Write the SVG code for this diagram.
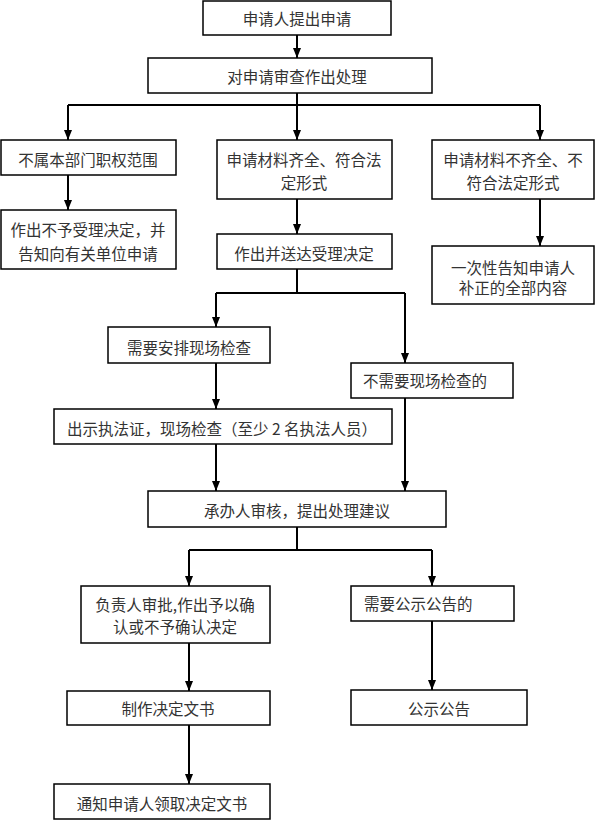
<svg xmlns="http://www.w3.org/2000/svg" width="596" height="821" viewBox="0 0 596 821">
<style>
.b{fill:#fff;stroke:#000;stroke-width:1.5}
.t{font-family:"Noto Sans CJK SC","Noto Sans CJK TC",sans-serif;font-size:15.5px;fill:#333;dominant-baseline:central}
.c{text-anchor:middle}
.l{stroke:#000;stroke-width:2;fill:none}
</style>
<defs>
<marker id="ah" viewBox="0 0 10 8" markerWidth="10" markerHeight="8" refX="10" refY="4" orient="auto" markerUnits="userSpaceOnUse">
<path d="M0,0 L10,4 L0,8 z" fill="#000"/>
</marker>
</defs>
<rect width="596" height="821" fill="#fff"/>
<g id="connectors">
<line class="l" x1="297" y1="35" x2="297" y2="58" marker-end="url(#ah)"/>
<polyline class="l" points="297,93 297,105"/>
<polyline class="l" points="68,105 540,105"/>
<line class="l" x1="68" y1="105" x2="68" y2="140" marker-end="url(#ah)"/>
<line class="l" x1="297" y1="105" x2="297" y2="140" marker-end="url(#ah)"/>
<line class="l" x1="540" y1="105" x2="540" y2="140" marker-end="url(#ah)"/>
<line class="l" x1="68" y1="175" x2="68" y2="210" marker-end="url(#ah)"/>
<line class="l" x1="297" y1="199" x2="297" y2="234" marker-end="url(#ah)"/>
<line class="l" x1="540" y1="199" x2="540" y2="246" marker-end="url(#ah)"/>
<polyline class="l" points="297,269 297,293"/>
<polyline class="l" points="216,293 405,293"/>
<line class="l" x1="216" y1="293" x2="216" y2="327" marker-end="url(#ah)"/>
<line class="l" x1="405" y1="293" x2="405" y2="363" marker-end="url(#ah)"/>
<line class="l" x1="216" y1="363" x2="216" y2="409" marker-end="url(#ah)"/>
<line class="l" x1="216" y1="444" x2="216" y2="491" marker-end="url(#ah)"/>
<line class="l" x1="405" y1="398" x2="405" y2="491" marker-end="url(#ah)"/>
<polyline class="l" points="297,527 297,550"/>
<polyline class="l" points="189,550 432,550"/>
<line class="l" x1="189" y1="550" x2="189" y2="586" marker-end="url(#ah)"/>
<line class="l" x1="432" y1="550" x2="432" y2="586" marker-end="url(#ah)"/>
<line class="l" x1="189" y1="643" x2="189" y2="691" marker-end="url(#ah)"/>
<line class="l" x1="189" y1="725" x2="189" y2="784" marker-end="url(#ah)"/>
<line class="l" x1="432" y1="621" x2="432" y2="690" marker-end="url(#ah)"/>
</g>
<g id="n1"><rect class="b" x="203" y="1" width="188" height="34"/><text class="t c" x="297" y="18">申请人提出申请</text></g>
<g id="n2"><rect class="b" x="148" y="58" width="284" height="35"/><text class="t c" x="297" y="76">对申请审查作出处理</text></g>
<g id="n3"><rect class="b" x="1" y="140" width="175" height="35"/><text class="t c" x="88" y="159">不属本部门职权范围</text></g>
<g id="n4"><rect class="b" x="217" y="140" width="175" height="59"/><text class="t c" x="304" y="159">申请材料齐全、符合法</text><text class="t c" x="304" y="182">定形式</text></g>
<g id="n5"><rect class="b" x="432" y="140" width="162" height="59"/><text class="t c" x="513" y="159">申请材料不齐全、不</text><text class="t c" x="513" y="182">符合法定形式</text></g>
<g id="n6"><rect class="b" x="1" y="210" width="175" height="59"/><text class="t c" x="88" y="229">作出不予受理决定，并</text><text class="t c" x="88" y="253">告知向有关单位申请</text></g>
<g id="n7"><rect class="b" x="217" y="234" width="175" height="35"/><text class="t c" x="304" y="253">作出并送达受理决定</text></g>
<g id="n8"><rect class="b" x="432" y="246" width="162" height="58"/><text class="t c" x="513" y="267">一次性告知申请人</text><text class="t c" x="513" y="287">补正的全部内容</text></g>
<g id="n9"><rect class="b" x="108" y="327" width="162" height="36"/><text class="t c" x="189" y="347">需要安排现场检查</text></g>
<g id="n10"><rect class="b" x="351" y="363" width="162" height="35"/><text class="t" x="363" y="380">不需要现场检查的</text></g>
<g id="n11"><rect class="b" x="54" y="409" width="338" height="35"/><text class="t" x="67" y="428">出示执法证，现场检查（至少 2 名执法人员）</text></g>
<g id="n12"><rect class="b" x="148" y="491" width="298" height="36"/><text class="t c" x="297" y="510">承办人审核，提出处理建议</text></g>
<g id="n13"><rect class="b" x="81" y="586" width="189" height="57"/><text class="t c" x="175" y="604">负责人审批,作出予以确</text><text class="t c" x="175" y="626">认或不予确认决定</text></g>
<g id="n14"><rect class="b" x="351" y="586" width="163" height="35"/><text class="t" x="364" y="603">需要公示公告的</text></g>
<g id="n15"><rect class="b" x="67" y="691" width="203" height="34"/><text class="t c" x="168" y="708">制作决定文书</text></g>
<g id="n16"><rect class="b" x="351" y="690" width="176" height="35"/><text class="t c" x="439" y="708">公示公告</text></g>
<g id="n17"><rect class="b" x="54" y="784" width="216" height="35"/><text class="t c" x="162" y="803">通知申请人领取决定文书</text></g>
</svg>
